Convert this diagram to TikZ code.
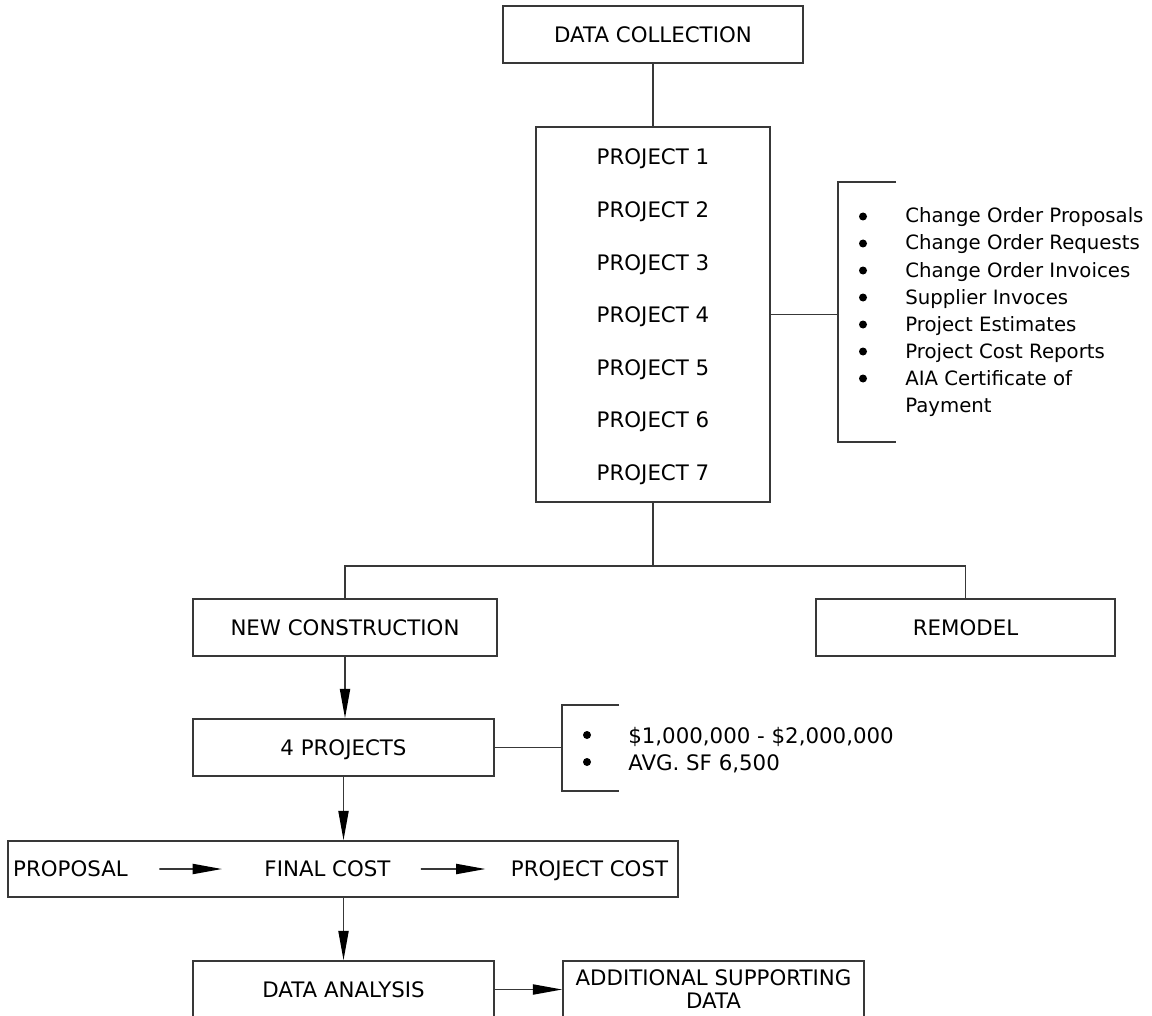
\documentclass[tikz,border=0pt]{standalone}
\usepackage{fontspec}
\setmainfont{DejaVu Sans}
\usetikzlibrary{arrows.meta,calc}
\begin{document}
\begin{tikzpicture}[x=0.75pt,y=-0.75pt,
  conn/.style={draw=black!78, line width=1.2pt},
  capsfont/.style={font=\fontsize{16}{18}\selectfont},
  box/.style={conn, capsfont, rectangle, inner sep=0pt, minimum height=42.75pt,
    text height=11.7pt, text depth=0pt},
  word/.style={capsfont, inner sep=0pt, text height=11.7pt, text depth=0pt},
  item/.style={anchor=base west, inner sep=0pt, font=\fontsize{14.8}{18}\selectfont},
  itemb/.style={anchor=base west, inner sep=0pt, font=\fontsize{16}{18}\selectfont},
  arr/.style={conn, -{Triangle[length=22pt,width=7.6pt,color=black]}},
  bul/.style={fill=black, draw=none}
]
\clip (0,0) rectangle (1152,1016);
\fill[white] (0,0) rectangle (1152,1016);

% top of the tree
\node[box, minimum width=225pt] (dc) at (653,34.5) {DATA COLLECTION};
\node[box, minimum width=175.5pt, minimum height=281.25pt] (proj) at (653,314.5) {};
\node[word] (p1) at (653,157) {PROJECT 1};
\node[word] (p2) at (653,210) {PROJECT 2};
\node[word] (p3) at (653,263) {PROJECT 3};
\node[word] (p4) at (653,315) {PROJECT 4};
\node[word] (p5) at (653,368) {PROJECT 5};
\node[word] (p6) at (653,420) {PROJECT 6};
\node[word] (p7) at (653,473) {PROJECT 7};
\draw[conn] (dc) -- (proj);

% document list with bracket
\coordinate (b1t) at (896,182);
\coordinate (b1b) at (896,442);
\coordinate (b1k) at (838,314.5);
\draw[conn] (b1t) -- (b1t -| b1k) -- (b1b -| b1k) -- (b1b);
\draw[conn] (proj.east) -- (b1k);
\node[item] (c1) at (905,223) {Change Order Proposals};
\node[item] (c2) at (905,250) {Change Order Requests};
\node[item] (c3) at (905,277) {Change Order Invoices};
\node[item] (c4) at (905,304) {Supplier Invoces};
\node[item] (c5) at (905,331) {Project Estimates};
\node[item] (c6) at (905,358) {Project Cost Reports};
\node[item] (c7) at (905,385) {AIA Certificate of};
\node[item] (c8) at (905,412) {Payment};
\foreach \yy in {216.5,243.5,270.5,297.5,324.5,351.5,378.5}
  \fill[bul] (863,\yy) circle (3pt);

% split into new construction / remodel
\node[box, minimum width=228pt] (nc) at (345,627.5) {NEW CONSTRUCTION};
\node[box, minimum width=224.25pt] (rem) at (965.5,627.5) {REMODEL};
\coordinate (j) at (653,566);
\draw[conn] (proj.south) -- (j);
\draw[conn] (nc.north) |- (j) -| (rem.north);

% four projects
\node[box, minimum width=225.75pt] (fp) at (343.5,747.5) {4 PROJECTS};
\draw[arr] (nc.south) -- (nc.south |- fp.north);
\coordinate (b2t) at (619,705);
\coordinate (b2b) at (619,791);
\coordinate (b2k) at (562,747.5);
\draw[conn] (b2t) -- (b2t -| b2k) -- (b2b -| b2k) -- (b2b);
\draw[conn] (fp.east) -- (b2k);
\node[itemb] (m1) at (628,743) {\$1,000,000 - \$2,000,000};
\node[itemb] (m2) at (628,770) {AVG. SF 6,500};
\fill[bul] (587,735) circle (3pt);
\fill[bul] (587,762) circle (3pt);

% cost chain
\node[box, minimum width=502.5pt, minimum height=42pt] (pf) at (343,869) {};
\node[word] (w1) at (70.5,869) {PROPOSAL};
\node[word] (w2) at (327.5,869) {FINAL COST};
\node[word] (w3) at (589.5,869) {PROJECT COST};
\draw[arr] ($(w1.east)!0.23!(w2.west)$) -- ($(w1.east)!0.69!(w2.west)$);
\draw[arr] ($(w2.east)!0.25!(w3.west)$) -- ($(w2.east)!0.79!(w3.west)$);
\draw[arr] (fp.south) -- (fp.south |- pf.north);

% analysis
\node[box, minimum width=225.75pt] (da) at (343.5,989.5) {DATA ANALYSIS};
\node[conn, inner sep=0pt, minimum width=225.75pt, minimum height=42.75pt,
  align=center, font=\fontsize{16}{17.25}\selectfont] (add) at (713.5,989.5)
  {ADDITIONAL SUPPORTING\\DATA};
\draw[arr] (da.north |- pf.south) -- (da.north);
\draw[arr] (da.east) -- (add.west);
\end{tikzpicture}
\end{document}
